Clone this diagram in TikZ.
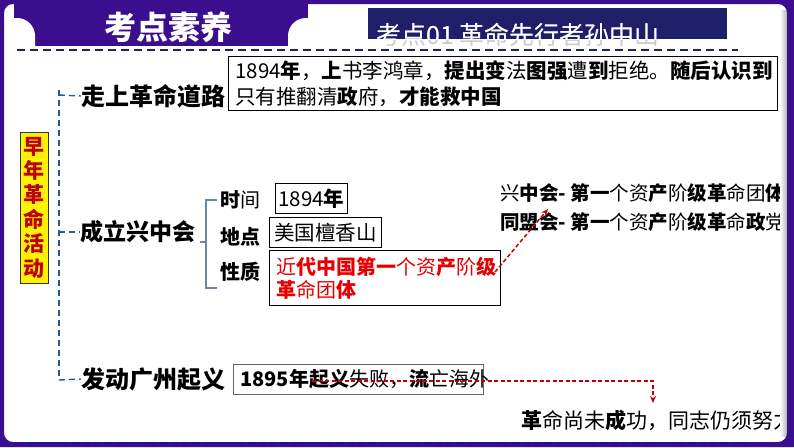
\documentclass[tikz,border=0pt]{standalone}
\usepackage{fontspec}
\setmainfont{Noto Sans CJK SC}
\usetikzlibrary{arrows.meta}
\definecolor{framec}{RGB}{58,14,140}
\definecolor{navyc}{RGB}{30,30,105}
\definecolor{dredc}{RGB}{192,0,0}
\definecolor{bredc}{RGB}{232,0,0}
\definecolor{treec}{RGB}{40,90,140}
\definecolor{brkc}{RGB}{110,135,160}
\definecolor{dashc}{RGB}{30,40,75}
\newcommand{\bb}[1]{{\bfseries #1}}
\newcommand{\fsz}[1]{\fontsize{#1}{#1}\selectfont}
\begin{document}
\begin{tikzpicture}[x=1pt,y=-1pt,
  lbl/.style={anchor=west,inner sep=0pt,font=\fsz{23.5}\bfseries},
  sub/.style={anchor=west,inner sep=0pt,font=\fsz{20}},
  box/.style={draw=black,line width=0.9pt,fill=white,inner ysep=0pt,font=\fsz{20}},
  treeline/.style={draw=treec,line width=1.4pt,dash pattern=on 6pt off 4pt},
  brkline/.style={draw=brkc,line width=1.5pt},
  redarrow/.style={draw=dredc,line width=1.5pt,dash pattern=on 4pt off 2.5pt,-{Stealth[length=7pt,width=6pt]}},
  topdash/.style={draw=dashc,line width=2pt,dash pattern=on 8pt off 5pt}
]
\useasboundingbox (0,0) rectangle (794,447);
\fill[white] (0,0) rectangle (794,447);

% tab
\fill[framec] (14,0) rectangle (308,46);
\fill[white] (4,60) -- (4,18) -- (17,18) .. controls (27,18) and (35,26) .. (35,36) -- (35,60) -- cycle;
\fill[white] (288,60) -- (288,36) .. controls (288,26) and (296,18) .. (306,18) -- (320,18) -- (320,60) -- cycle;
\node[text=white,font=\fsz{32}\bfseries,inner sep=0pt] (tab) at (168,27) {考点素养};

% header box
\fill[navyc] (368,8) rectangle (727,39);
\node[anchor=west,inner sep=0pt,text=gray!40,font=\fsz{25}] (hg) at (376,35) {考点01 革命先行者孙中山};
\begin{scope}
\clip (368,8) rectangle (727,39);
\node[anchor=west,inner sep=0pt,text=white,font=\fsz{25}] (hw) at (376,35) {考点01 革命先行者孙中山};
\end{scope}
\coordinate (d0) at (17,50);
\coordinate (d1) at (738,50);
\draw[topdash] (d0) -- (d1);

% left label
\node[draw=black!80,line width=0.8pt,fill=yellow,minimum width=28pt,minimum height=151pt,inner sep=0pt,align=center,text=dredc,font=\fontsize{21}{24.4}\selectfont\bfseries] (yb) at (34,207.5) {早\\年\\革\\命\\活\\动};

% branches
\node[lbl,font=\fsz{24}\bfseries] (l1) at (81,96) {走上革命道路};
\node[lbl,font=\fsz{23}\bfseries] (l2) at (80,232) {成立兴中会};
\node[lbl,font=\fsz{24}\bfseries] (l3) at (81,379) {发动广州起义};
\coordinate (t0) at (59,90);
\coordinate (t1) at (59,95);
\coordinate (t2) at (59,232);
\coordinate (t3) at (59,380);
\draw[treeline] (t0) -- (t3);
\draw[treeline] (t1) -- (l1.west);
\draw[treeline] (t2) -- (l2.west);
\draw[treeline] (t3) -- (l3.west);

% box 1
\node[box,anchor=north west,minimum width=549pt,minimum height=54pt,text width=535pt,inner xsep=7pt,align=left,font=\fontsize{20.5}{26}\selectfont] (b1) at (228,56) {1894\bb{年}，\bb{上}书李鸿章，\bb{提出变}法\bb{图强}遭\bb{到}拒绝。\bb{随后认识到}\\只有推翻清\bb{政}府，\bb{才能救中国}};

% 兴中会 details
\node[sub] (s1) at (220,200) {\bb{时}间};
\node[sub,font=\fsz{20}\bfseries] (s2) at (220,237) {地点};
\node[sub,font=\fsz{20}\bfseries] (s3) at (220,272) {性质};
\coordinate (bt) at (217,200);
\coordinate (bb) at (217,288);
\coordinate (bm) at (206,242);
\coordinate (bm0) at (200,242);
\draw[brkline] (bt) -- (206,200) -- (206,288) -- (bb);
\draw[brkline] (bm0) -- (bm);

\node[box,anchor=north west,minimum width=72pt,minimum height=30pt,inner xsep=0pt,font=\fsz{20.5}] (v1) at (275,183) {1894\bb{年}};
\node[box,anchor=north west,minimum width=112pt,minimum height=30pt,inner xsep=0pt,font=\fsz{20.5}] (v2) at (269,217) {美国檀香山};
\node[box,anchor=north west,minimum width=231pt,minimum height=55pt,text width=217pt,inner xsep=7pt,align=left,text=bredc,font=\fontsize{20}{23}\selectfont] (v3) at (269,250) {近\bb{代中国第一}个资\bb{产}阶\bb{级}\\\bb{革}命团\bb{体}};

% right notes
\node[sub,font=\fsz{19.5}] (n1) at (500,193) {兴\bb{中会- 第一}个资\bb{产}阶\bb{级革}命团\bb{体}};
\node[sub,font=\fsz{19.5}] (n2) at (500,222) {\bb{同盟会- 第一}个资\bb{产}阶\bb{级革}命\bb{政}党};
\coordinate (ra0) at (495,272);
\coordinate (ra1) at (548,209);
\draw[redarrow] (ra0) -- (ra1);

% 广州起义
\node[box,draw=black!60,anchor=north west,minimum width=250pt,minimum height=30pt,text width=236pt,inner xsep=7pt,align=left,font=\fsz{20}] (g1) at (233,364) {\bb{1895年起义}失败，\bb{流}亡海外};
\node[sub,font=\fsz{21}] (g2) at (521,420) {\bb{革}命尚未\bb{成}功，同志仍须努力};
\coordinate (rb0) at (312,381);
\coordinate (rb1) at (653,403);
\draw[redarrow] (rb0) -| (rb1);

% right inner shadow
\shade[left color=white,right color=black!30] (780,10) rectangle (787,436);

% frame
\fill[framec,even odd rule] (0,0) rectangle (794,447) {[rounded corners=9pt] (4,4) rectangle (787,442)};
\coordinate (e0) at (28,443);
\coordinate (e1) at (748,443);
\draw[draw=navyc!80!blue,line width=2.5pt,dash pattern=on 7pt off 4pt] (e0) -- (e1);
\end{tikzpicture}
\end{document}
